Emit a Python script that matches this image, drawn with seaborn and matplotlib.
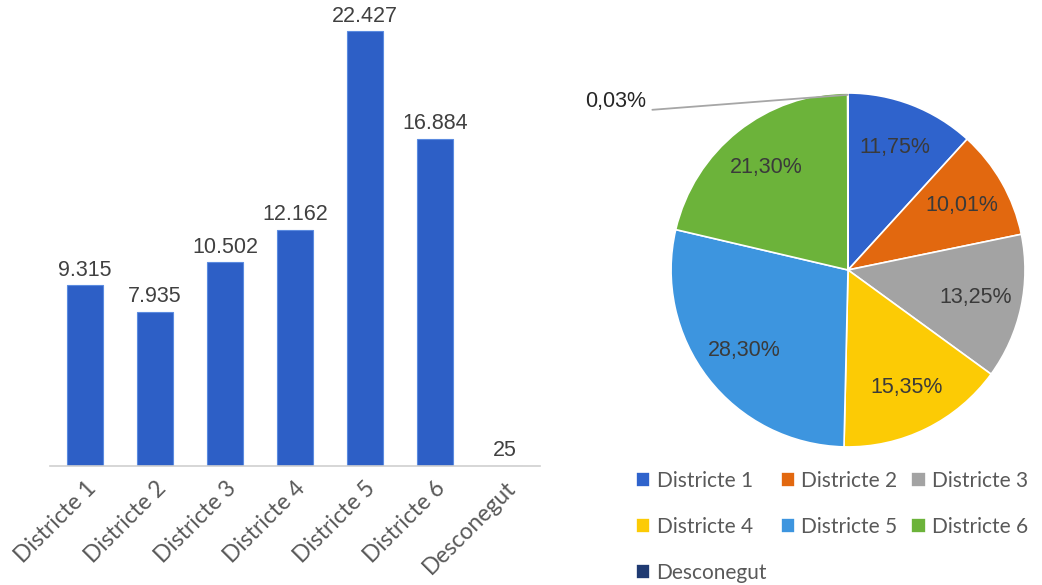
#!/usr/bin/env python3

import numpy as np
import pandas as pd
import seaborn as sns
from matplotlib import pyplot as plt

districts = ['Districte 1', 'Districte 2', 'Districte 3', 'Districte 4',
             'Districte 5', 'Districte 6', 'Desconegut']
counts = [9315, 7935, 10502, 12162, 22427, 16884, 25]
pie_colors = ['#2f63cc', '#e2680f', '#a3a3a3', '#fccb05',
              '#3d95df', '#6cb33a', '#1f3a72']


def fmt_thousands(v):
    return f'{v:,}'.replace(',', '.')


def plot(out_file):
    df = pd.DataFrame({'district': districts, 'count': counts})

    sns.set_theme(style='white')
    plt.rcParams['font.family'] = ['Liberation Sans', 'DejaVu Sans']

    f = plt.figure(figsize=(10.42, 5.85), dpi=100)

    # bar chart
    ax = f.add_axes([0.048, 0.2034, 0.47, 0.762])
    sns.barplot(data=df, x='district', y='count', color='#2d5fc6',
                width=0.52, saturation=1, ax=ax)
    for p in ax.patches:
        p.set_edgecolor('#5b8be0')
        p.set_linewidth(0.8)
    ax.set_ylim(0, 23000)
    ax.set_xlim(-0.5, len(districts) - 0.5)
    for i, v in enumerate(counts):
        ax.text(i, v + 250, fmt_thousands(v), ha='center', va='bottom',
                fontsize=15.5, color='#404040')
    sns.despine(ax=ax, left=True)
    ax.spines['bottom'].set_color('#d0d0d0')
    ax.spines['bottom'].set_linewidth(1.2)
    ax.set_yticks([])
    ax.set_xlabel(None)
    ax.set_ylabel(None)
    ax.tick_params(axis='x', length=0, pad=8)
    ax.set_xticks(range(len(districts)))
    ax.set_xticklabels(districts, rotation=45, ha='right',
                       rotation_mode='anchor', fontsize=16.5, color='#595959',
                       family=['Lato', 'DejaVu Sans'])

    # pie chart
    ax2 = f.add_axes([0.644, 0.236, 0.3397, 0.605])
    total = sum(counts)
    pcts = [c / total * 100 for c in counts]
    wedges, _ = ax2.pie(counts, colors=pie_colors, startangle=90,
                        counterclock=False,
                        wedgeprops={'edgecolor': 'white', 'linewidth': 1.2})
    ax2.set_xlim(-1, 1)
    ax2.set_ylim(-1, 1)

    angle = 90.0
    for i, pct in enumerate(pcts):
        span = pct / 100 * 360
        mid = np.deg2rad(angle - span / 2)
        angle -= span
        label = f'{pct:.2f}%'.replace('.', ',')
        if pct < 1:
            ax2.annotate(label, xy=(np.cos(mid) * 0.99, np.sin(mid) * 0.99),
                         xytext=(-1.14, 0.95), ha='right', va='center',
                         fontsize=15.5, color='#262626',
                         arrowprops={'arrowstyle': '-', 'color': '#a6a6a6',
                                     'lw': 1.3, 'shrinkA': 2, 'shrinkB': 0,
                                     'relpos': (1.0, 0.1)})
            continue
        r = 0.74
        ax2.text(np.cos(mid) * r, np.sin(mid) * r, label, ha='center',
                 va='center', fontsize=15.5, color='#3a3a3a')

    # row-major legend order for 3 columns
    order = [0, 3, 6, 1, 4, 2, 5]
    ax2.legend([wedges[k] for k in order], [districts[k] for k in order],
               loc='upper left', bbox_to_anchor=(-0.153, -0.015), ncol=3,
               frameon=False,
               prop={'family': ['Lato', 'DejaVu Sans'], 'size': 15},
               labelcolor='#595959', handlelength=0.7, handleheight=0.7,
               handletextpad=0.3, columnspacing=0.65, labelspacing=1.25)

    f.savefig(out_file, dpi=100)


if __name__ == '__main__':
    plot('out.png')
